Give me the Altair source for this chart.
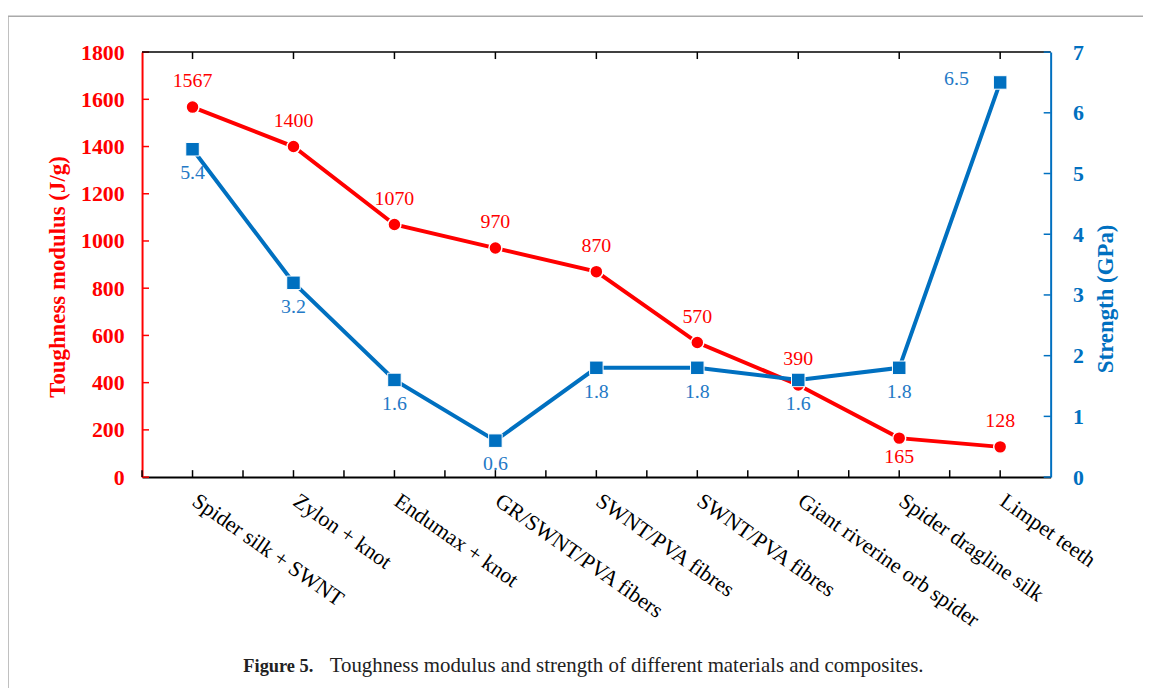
import json
import altair as alt
import pandas as pd

materials = [
    "Spider silk + SWNT",
    "Zylon + knot",
    "Endumax + knot",
    "GR/SWNT/PVA fibers",
    "SWNT/PVA fibres",
    "SWNT/PVA fibres",
    "Giant riverine orb spider",
    "Spider dragline silk",
    "Limpet teeth",
]
toughness = [1567, 1400, 1070, 970, 870, 570, 390, 165, 128]
strength = [5.4, 3.2, 1.6, 0.6, 1.8, 1.8, 1.6, 1.8, 6.5]
tough_ticks = [0, 200, 400, 600, 800, 1000, 1200, 1400, 1600, 1800]
strength_ticks = [0, 1, 2, 3, 4, 5, 6, 7]
caption_bold = "Figure 5."
caption_text = "Toughness modulus and strength of different materials and composites."

df = pd.DataFrame({
    "idx": list(range(len(materials))),
    "material": materials,
    "tough": toughness,
    "strength": strength,
})
df["tough_label"] = [str(v) for v in toughness]
df["strength_label"] = [f"{v:.1f}" for v in strength]

W, H = 915, 428
RED = "#FF0000"
BLUE = "#0070C0"
LBLUE = "#2479C6"
FONT = "Liberation Serif"
one = pd.DataFrame({"a": [0]})

label_expr = json.dumps(materials) + "[datum.value]"
x_scale = alt.Scale(type="band", paddingInner=0, paddingOuter=0)
x_axis = alt.Axis(
    title=None, labelExpr=label_expr, labelAngle=35, labelAlign="left",
    labelBaseline="top", labelFont=FONT, labelFontSize=22, labelColor="black",
    labelPadding=13, labelOffset=8, ticks=False, domainColor="black",
    domainWidth=2, grid=False, labelOverlap=False, labelLimit=400,
)


def X(bp=0.5):
    return alt.X("idx:O", scale=x_scale, axis=x_axis, bandPosition=bp)


yl_scale = alt.Scale(domain=[0, 1800], nice=False)
yl_axis = alt.Axis(
    title="Toughness modulus (J/g)", values=tough_ticks, format="d", orient="left",
    ticks=False, grid=False, domainColor=RED, domainWidth=2,
    labelColor=RED, labelFont=FONT, labelFontSize=22, labelFontWeight="bold",
    labelPadding=18, titleColor=RED, titleFont=FONT, titleFontSize=23,
    titleFontWeight="bold", titleX=-85, titleY=226, titleAngle=270,
    titleBaseline="middle", titleAlign="center",
)
yr_scale = alt.Scale(domain=[0, 7], nice=False)
yr_axis = alt.Axis(
    title="Strength (GPa)", values=strength_ticks, format="d", orient="right",
    ticks=False, grid=False, domainColor=BLUE, domainWidth=2,
    labelColor=BLUE, labelFont=FONT, labelFontSize=22, labelFontWeight="bold",
    labelPadding=22, titleColor=BLUE, titleFont=FONT, titleFontSize=23,
    titleFontWeight="bold", titleX=55, titleY=248, titleAngle=270,
    titleBaseline="middle", titleAlign="center",
)


def YL(f):
    return alt.Y(f"{f}:Q", scale=yl_scale, axis=yl_axis)


def YR(f):
    return alt.Y(f"{f}:Q", scale=yr_scale, axis=yr_axis)


base = alt.Chart(df)

red_line = base.mark_line(color=RED, strokeWidth=4).encode(x=X(), y=YL("tough"))
red_pts = base.mark_point(shape="circle", filled=True, fill=RED, size=170,
                          stroke="white", strokeWidth=1.5, opacity=1).encode(x=X(), y=YL("tough"))
red_txt_up = base.mark_text(font=FONT, fontSize=20, color=RED, dy=-26).encode(
    x=X(), y=YL("tough"), text="tough_label:N").transform_filter(alt.datum.idx != 7)
red_txt_dn = base.mark_text(font=FONT, fontSize=20, color=RED, dy=19).encode(
    x=X(), y=YL("tough"), text="tough_label:N").transform_filter(alt.datum.idx == 7)

yl_ticks = alt.Chart(pd.DataFrame({"v": tough_ticks})).mark_rule(color=RED, strokeWidth=1.5).encode(
    y=alt.Y("v:Q", scale=yl_scale, axis=yl_axis), x=alt.value(0), x2=alt.value(7))

xt_bottom = base.mark_rule(color="black", strokeWidth=1.5).encode(
    x=X(0.5), y=alt.value(H), y2=alt.value(H - 7))
xt_bottom_b = base.mark_rule(color="black", strokeWidth=1.5).encode(
    x=X(0), y=alt.value(H), y2=alt.value(H - 7))
xt_top = base.mark_rule(color="black", strokeWidth=1.5).encode(
    x=X(0.5), y=alt.value(0), y2=alt.value(7))
top_line = alt.Chart(one).mark_rule(color="black", strokeWidth=1.5).encode(
    x=alt.value(0), x2=alt.value(W), y=alt.value(0))

frame_top = alt.Chart(one).mark_rule(color="#AAAAAA", strokeWidth=1.5).encode(
    x=alt.value(-135), x2=alt.value(1008), y=alt.value(-36))
frame_left = alt.Chart(one).mark_rule(color="#AAAAAA", strokeWidth=1.5).encode(
    x=alt.value(-135), y=alt.value(-36), y2=alt.value(650))

cap1 = alt.Chart(one).mark_text(font=FONT, fontSize=18.5, fontWeight="bold", color="#222222",
                                align="left", baseline="middle").encode(
    x=alt.value(102), y=alt.value(618), text=alt.value(caption_bold))
cap2 = alt.Chart(one).mark_text(font=FONT, fontSize=21, color="#222222",
                                align="left", baseline="middle").encode(
    x=alt.value(189), y=alt.value(618), text=alt.value(caption_text))

left = alt.layer(red_line, red_pts, yl_ticks, xt_bottom, xt_bottom_b, xt_top, top_line,
                 frame_top, frame_left, cap1, cap2, red_txt_up, red_txt_dn)

blue_line = base.mark_line(color=BLUE, strokeWidth=4).encode(x=X(), y=YR("strength"))
blue_pts = base.mark_point(shape="square", filled=True, fill=BLUE, size=185,
                           stroke="white", strokeWidth=1, opacity=1).encode(x=X(), y=YR("strength"))
blue_txt_dn = base.mark_text(font=FONT, fontSize=20, color=LBLUE, dy=24).encode(
    x=X(), y=YR("strength"), text="strength_label:N").transform_filter(alt.datum.idx != 8)
blue_txt_lf = base.mark_text(font=FONT, fontSize=20, color=LBLUE, dx=-44, dy=-3).encode(
    x=X(), y=YR("strength"), text="strength_label:N").transform_filter(alt.datum.idx == 8)
yr_ticks = alt.Chart(pd.DataFrame({"v": strength_ticks})).mark_rule(color=BLUE, strokeWidth=1.5).encode(
    y=alt.Y("v:Q", scale=yr_scale, axis=yr_axis), x=alt.value(W), x2=alt.value(W - 7))

right = alt.layer(blue_line, blue_pts, yr_ticks, blue_txt_dn, blue_txt_lf)

chart = alt.layer(left, right).resolve_scale(y="independent").properties(
    width=W, height=H,
    autosize=alt.AutoSizeParams(type="none"),
    padding={"left": 135, "top": 42, "right": 93, "bottom": 210},
    background="white",
).configure_view(stroke=None)

chart.save("out.html", embed_options={"renderer": "svg", "actions": False})
